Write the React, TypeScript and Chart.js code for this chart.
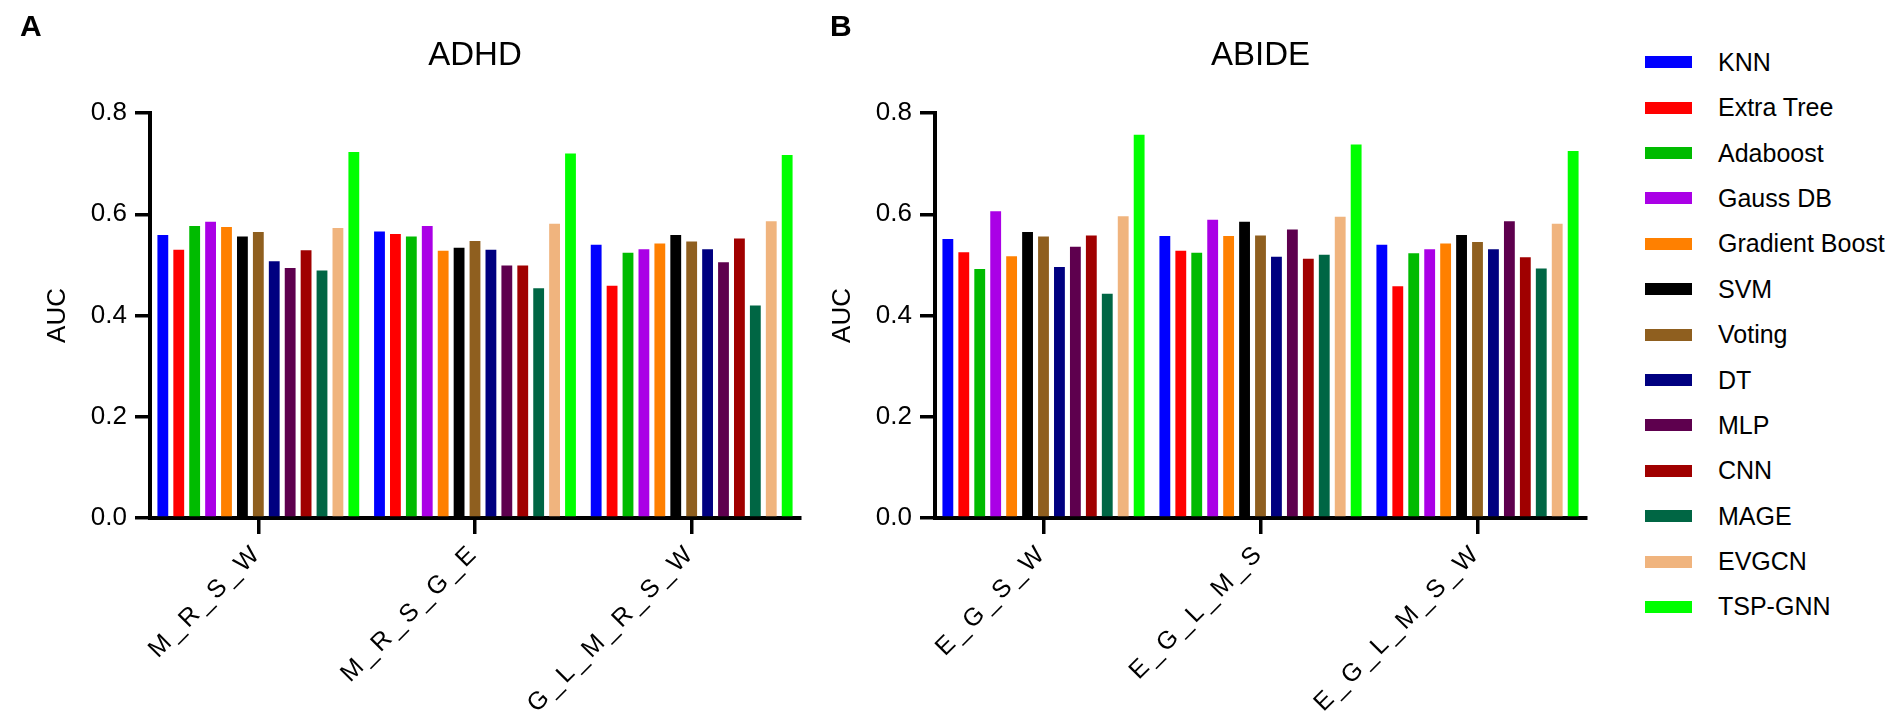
import { useEffect, useRef } from 'react';
import { Chart, registerables } from 'chart.js';

Chart.register(...registerables);

const FONT = '"Liberation Sans", Arial, Helvetica, sans-serif';

const methods = ['KNN', 'Extra Tree', 'Adaboost', 'Gauss DB', 'Gradient Boost', 'SVM', 'Voting', 'DT', 'MLP', 'CNN', 'MAGE', 'EVGCN', 'TSP-GNN'];
const colors = ['#0000FF', '#FF0000', '#00BB00', '#AA00E6', '#FF8000', '#000000', '#8F5F1F', '#000080', '#5E004E', '#A00000', '#006644', '#F0B47E', '#00FF00'];

const adhdCombos = ['M_R_S_W', 'M_R_S_G_E', 'G_L_M_R_S_W'];
const abideCombos = ['E_G_S_W', 'E_G_L_M_S', 'E_G_L_M_S_W'];

// one row per feature combination, one value per method (same order as `methods`)
const adhdMRSW = [0.559, 0.530, 0.577, 0.585, 0.575, 0.556, 0.565, 0.507, 0.494, 0.529, 0.489, 0.573, 0.723];
const adhdMRSGE = [0.566, 0.561, 0.556, 0.577, 0.528, 0.534, 0.547, 0.530, 0.499, 0.499, 0.454, 0.581, 0.720];
const adhdGLMRSW = [0.540, 0.459, 0.524, 0.531, 0.542, 0.559, 0.546, 0.531, 0.505, 0.552, 0.420, 0.586, 0.717];

const abideEGSW = [0.551, 0.525, 0.492, 0.606, 0.517, 0.565, 0.556, 0.496, 0.536, 0.558, 0.443, 0.596, 0.757];
const abideEGLMS = [0.557, 0.528, 0.524, 0.589, 0.557, 0.585, 0.558, 0.516, 0.570, 0.512, 0.520, 0.595, 0.738];
const abideEGLMSW = [0.540, 0.458, 0.523, 0.531, 0.542, 0.559, 0.545, 0.531, 0.586, 0.515, 0.493, 0.581, 0.725];

const yTicks = [0, 0.2, 0.4, 0.6, 0.8];

// the category labels in the figure are drawn with wide letter spacing
const spacedXLabels = {
    id: 'spacedXLabels',
    afterLayout(chart: any) {
        const xs = chart.scales.x;
        if (!xs || xs._spaced) return;
        const orig = xs.drawLabels;
        xs.drawLabels = function (area: any) {
            const c = this.ctx;
            c.save();
            c.letterSpacing = '4px';
            orig.call(this, area);
            c.restore();
        };
        xs._spaced = true;
    },
};

interface PanelProps {
    title: string;
    combos: string[];
    rows: number[][];
    left: number;
    width: number;
    padRight: number;
}

function BarPanel({ title, combos, rows, left, width, padRight }: PanelProps) {
    const canvasRef = useRef<HTMLCanvasElement>(null);

    useEffect(() => {
        if (!canvasRef.current) return;
        const datasets = methods.map((m, i) => ({
            label: m,
            data: rows.map(r => r[i]),
            backgroundColor: colors[i],
            borderWidth: 0,
            categoryPercentage: 0.955,
            barPercentage: 0.68,
        }));
        const tickFont = { family: FONT, size: 26 };
        const chart = new Chart(canvasRef.current, {
            type: 'bar',
            data: { labels: combos, datasets },
            plugins: [spacedXLabels],
            options: {
                responsive: false,
                animation: false,
                events: [],
                layout: { padding: { left: 0, right: padRight, top: 0, bottom: 0 } },
                plugins: {
                    legend: { display: false },
                    tooltip: { enabled: false },
                    title: {
                        display: true,
                        text: title,
                        color: '#000',
                        fullSize: false,
                        font: { family: FONT, size: 33, weight: 'normal' },
                        padding: { top: 36, bottom: 37.4 },
                    },
                },
                scales: {
                    x: {
                        offset: true,
                        grid: { offset: false, drawOnChartArea: false, drawTicks: true, tickLength: 16, lineWidth: 3.5, color: '#000' },
                        border: { display: true, width: 4, color: '#000' },
                        ticks: { color: '#000', font: { family: FONT, size: 25 }, minRotation: 45, maxRotation: 45, padding: 4, autoSkip: false },
                        afterFit: (s: any) => { s.height = 194; },
                    },
                    y: {
                        min: 0,
                        max: 0.8,
                        afterBuildTicks: (s: any) => { s.ticks = yTicks.map(v => ({ value: v })); },
                        ticks: { color: '#000', font: tickFont, padding: 8, callback: (v: any) => Number(v).toFixed(1) },
                        grid: { drawOnChartArea: false, drawTicks: true, tickLength: 15, lineWidth: 3.5, color: '#000' },
                        border: { display: true, width: 4, color: '#000' },
                        title: { display: true, text: 'AUC', color: '#000', font: tickFont, padding: { top: 42, bottom: 0 } },
                        afterFit: (s: any) => { s.width = 150; },
                    },
                },
            } as any,
        });
        return () => { chart.destroy(); };
    }, [title, combos, rows, padRight]);

    return (
        <canvas
            ref={canvasRef}
            width={width}
            height={712}
            style={{ position: 'absolute', left, top: 0, width, height: 712 }}
        />
    );
}

export default function App() {
    useEffect(() => {
        document.body.style.margin = '0';
    }, []);

    const letter = { position: 'absolute' as const, top: 11, fontFamily: FONT, fontWeight: 'bold' as const, fontSize: 30, lineHeight: 1 };

    return (
        <div style={{ position: 'relative', width: 1902, height: 712, background: '#fff', overflow: 'hidden' }}>
            <BarPanel title="ADHD" combos={adhdCombos} rows={[adhdMRSW, adhdMRSGE, adhdGLMRSW]} left={0} width={830} padRight={30} />
            <BarPanel title="ABIDE" combos={abideCombos} rows={[abideEGSW, abideEGLMS, abideEGLMSW]} left={785} width={830} padRight={29} />
            <div style={{ ...letter, left: 20 }}>A</div>
            <div style={{ ...letter, left: 830 }}>B</div>
            <div style={{ position: 'absolute', left: 1645, top: 62.3 - 22.7 }}>
                {methods.map((m, i) => (
                    <div key={m} style={{ display: 'flex', alignItems: 'center', height: 45.4 }}>
                        <span style={{ display: 'inline-block', width: 47, height: 12, background: colors[i] }} />
                        <span style={{ marginLeft: 26, fontFamily: FONT, fontSize: 25, lineHeight: 1, color: '#000' }}>{m}</span>
                    </div>
                ))}
            </div>
        </div>
    );
}
